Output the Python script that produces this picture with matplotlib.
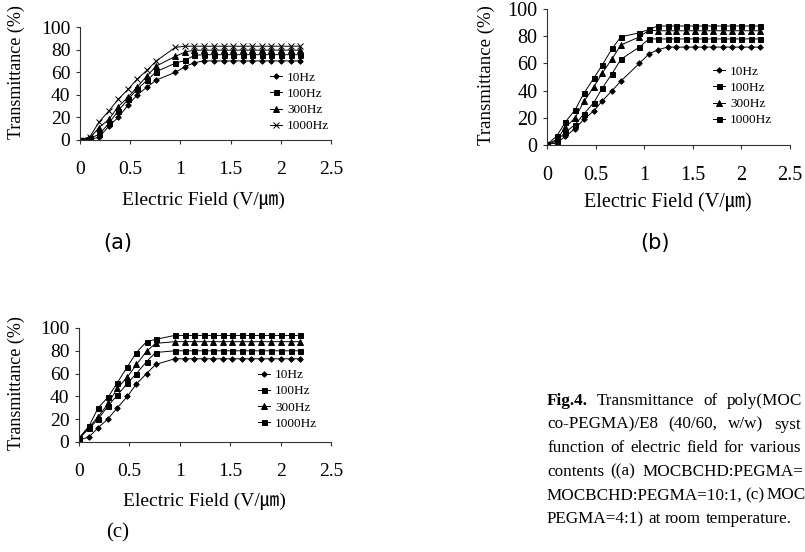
import matplotlib.pyplot as plt
from matplotlib.ticker import FormatStrFormatter

plt.rcParams['font.family'] = ['Liberation Serif', 'Noto Sans CJK JP']

# electric field (V/um); the reference has no point near 0.86
field = [0, 0.1, 0.19, 0.29, 0.38, 0.48, 0.57, 0.67, 0.76, 0.95, 1.05, 1.14,
         1.24, 1.33, 1.43, 1.52, 1.62, 1.71, 1.81, 1.9, 2.0, 2.1, 2.19]
freq_labels = ["10Hz", "100Hz", "300Hz", "1000Hz"]

# (a) MOCBCHD:PEGMA=20:1
a_10 = [0, 0.5, 2.5, 12.5, 20, 31, 40, 47, 53, 60, 65, 68.5, 70,
        70, 70, 70, 70, 70, 70, 70, 70, 70, 70]
a_100 = [0, 1.5, 5, 15, 26, 36, 45, 53, 60.5, 68, 70.5, 75, 75.5,
         75.5, 75.5, 75.5, 75.5, 75.5, 75.5, 75.5, 75.5, 75.5, 75.5]
a_300 = [0, 2, 11, 18.5, 29.5, 38, 47, 57, 65.5, 74, 78, 79.5, 79.5,
         79.5, 79.5, 79.5, 79.5, 79.5, 79.5, 79.5, 79.5, 79.5, 79.5]
a_1000 = [0, 3, 16, 26, 36, 45, 54, 62, 70, 82, 83, 83, 83,
          83, 83, 83, 83, 83, 83, 83, 83, 83, 83]

# (b) MOCBCHD:PEGMA=10:1
b_10 = [0.5, 1.5, 6.5, 12, 19, 25, 32.5, 40, 47, 60, 67, 70, 72,
        72, 72, 72, 72, 72, 72, 72, 72, 72, 72]
b_100 = [0.5, 3, 9.5, 15, 23, 31, 42, 52.5, 63, 72, 78, 78, 78,
         78, 78, 78, 78, 78, 78, 78, 78, 78, 78]
b_300 = [0.5, 4, 13, 20, 32, 42.5, 53, 63.5, 73.5, 79.5, 84.5, 84, 84,
         84, 84, 84, 84, 84, 84, 84, 84, 84, 84]
b_1000 = [0.5, 6.5, 17, 26, 38, 49, 59, 71, 79.5, 82.5, 85, 87.5, 87.5,
          87.5, 87.5, 87.5, 87.5, 87.5, 87.5, 87.5, 87.5, 87.5, 87.5]

# (c) MOCBCHD:PEGMA=4:1
c_10 = [1.5, 4.5, 12.5, 20.5, 30, 40, 51, 60, 68, 73, 73, 73, 73,
        73, 73, 73, 73, 73, 73, 73, 73, 73, 73]
c_100 = [3, 12, 20, 32, 41, 51.5, 60, 70.5, 78.5, 80, 80, 80, 80,
         80, 80, 80, 80, 80, 80, 80, 80, 80, 80]
c_300 = [3, 13, 22, 34, 47, 57, 68, 79.5, 86.5, 88, 88, 88, 88,
         88, 88, 88, 88, 88, 88, 88, 88, 88, 88]
c_1000 = [3.5, 14, 30, 39.5, 52, 66, 78.5, 88, 90, 93.5, 93.5, 93.5, 93.5,
          93.5, 93.5, 93.5, 93.5, 93.5, 93.5, 93.5, 93.5, 93.5, 93.5]

# caption lines as far as the reference shows them (it is cut at the right edge)
caption = [
    "Fig.4. Transmittance of poly(MOC",
    "co-PEGMA)/E8 (40/60, w/w) syst",
    "function of electric field for various",
    "contents ((a) MOCBCHD:PEGMA=",
    "MOCBCHD:PEGMA=10:1, (c) MOC",
    "PEGMA=4:1) at room temperature.",
]

W, H = 805, 552
fig = plt.figure(figsize=(W / 100, H / 100), dpi=100)


def px_axes(x0, y0, x1, y1):
    return fig.add_axes([x0 / W, 1 - y1 / H, (x1 - x0) / W, (y1 - y0) / H])


def draw_panel(ax, series, markers, fs, leg_xy, ylab_xy, xlab_xy):
    for ys, m, lab in zip(series, markers, freq_labels):
        ms = {'D': 2.8, 's': 3.6, '^': 4.0, 'x': 4.0}[m]
        ax.plot(field, ys, color='black', lw=0.7, marker=m, markersize=ms,
                markeredgewidth=0.7, label=lab)
    ax.set_xlim(0, 2.5)
    ax.set_ylim(0, 100)
    ax.set_xticks([0, 0.5, 1, 1.5, 2, 2.5])
    ax.set_yticks([0, 20, 40, 60, 80, 100])
    ax.xaxis.set_major_formatter(FormatStrFormatter('%g'))
    ax.spines['top'].set_visible(False)
    ax.spines['right'].set_visible(False)
    for s in ('left', 'bottom'):
        ax.spines[s].set_linewidth(0.8)
        ax.spines[s].set_color('#333333')
    ax.tick_params(axis='x', direction='out', length=3, width=0.8,
                   labelsize=fs, pad=12, color='#333333')
    ax.tick_params(axis='y', direction='out', length=3, width=0.8,
                   labelsize=fs, pad=4, color='#333333')
    ax.set_ylabel("Transmittance (%)", fontsize=fs - 1)
    ax.yaxis.set_label_coords(*ylab_xy)
    ax.set_xlabel("Electric Field (V/㎛)", fontsize=fs)
    ax.xaxis.set_label_coords(*xlab_xy)
    ax.legend(loc='center left', bbox_to_anchor=leg_xy, frameon=False,
              fontsize=9.5, handlelength=0.9, handletextpad=0.4,
              labelspacing=0.3, borderpad=0, borderaxespad=0)


ax_a = px_axes(80, 27, 331, 140)
draw_panel(ax_a, [a_10, a_100, a_300, a_1000], ['D', 's', '^', 'x'], 14,
           (0.757, 0.336), (-0.219, 0.597), (0.492, -0.46))

ax_b = px_axes(547, 9, 790, 145)
draw_panel(ax_b, [b_10, b_100, b_300, b_1000], ['D', 's', '^', 's'], 14.5,
           (0.683, 0.36), (-0.214, 0.515), (0.498, -0.353))

ax_c = px_axes(79, 328, 331, 442)
draw_panel(ax_c, [c_10, c_100, c_300, c_1000], ['D', 's', '^', 's'], 14,
           (0.71, 0.373), (-0.214, 0.518), (0.496, -0.447))

# panel letters
for lab, xp, yp, fam in [("(a)", 118, 243, ['DejaVu Sans']),
                          ("(b)", 655, 243, ['DejaVu Sans']),
                          ("(c)", 118, 533, ['Liberation Serif'])]:
    fig.text(xp / W, 1 - yp / H, lab, ha='center', va='center',
             fontsize=15, family=fam)

# caption, justified word by word so lines reach the right edge
cap_x, cap_y0, cap_dy, cap_fs = 547, 405, 23.6, 12.3
cap_right = [802, 801, 800, 803, 804, None]
renderer = fig.canvas.get_renderer()
for i, (line, right) in enumerate(zip(caption, cap_right)):
    y = 1 - (cap_y0 + i * cap_dy) / H
    words = line.split(" ")
    objs = []
    for j, w in enumerate(words):
        bold = (i == 0 and j == 0)
        objs.append(fig.text(0, y, w, fontsize=cap_fs, va='baseline', ha='left',
                             fontweight='bold' if bold else 'normal'))
    widths = [o.get_window_extent(renderer).width for o in objs]
    space = cap_fs * 100 / 72 * 0.25
    gap = space
    if right is not None and len(words) > 1:
        gap = max(0.5 * space, (right - cap_x - sum(widths)) / (len(words) - 1))
    xpos = cap_x
    for o, w in zip(objs, widths):
        o.set_x(xpos / W)
        xpos += w + gap

fig.savefig("out.png", dpi=100)
